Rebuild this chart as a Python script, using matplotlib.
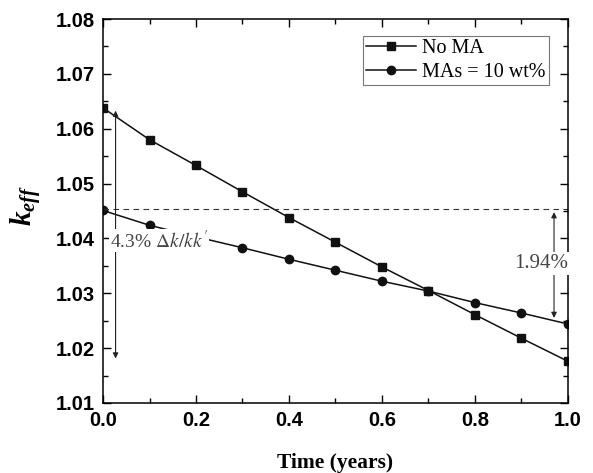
import matplotlib.pyplot as plt
import numpy as np

# data
time = [0.0, 0.1, 0.2, 0.3, 0.4, 0.5, 0.6, 0.7, 0.8, 0.9, 1.0]
k_no_ma = [1.0638, 1.0580, 1.0533, 1.0485, 1.0438, 1.0393, 1.0348, 1.0305, 1.0261, 1.0218, 1.0176]
k_ma10 = [1.0451, 1.0424, 1.0403, 1.0383, 1.0362, 1.0342, 1.0322, 1.0304, 1.0283, 1.0264, 1.0244]
ref_level = 1.0453

serif = ['Liberation Serif', 'DejaVu Serif']
sans = ['Liberation Sans', 'DejaVu Sans']

plt.rcParams['mathtext.fontset'] = 'custom'
plt.rcParams['mathtext.it'] = 'Liberation Serif:italic:bold'
plt.rcParams['mathtext.rm'] = 'Liberation Serif:bold'

fig = plt.figure(figsize=(5.93, 4.73), dpi=100)
ax = fig.add_axes([0.1737, 0.148, 0.7841, 0.8118])

ax.plot(time, k_no_ma, color='#111111', linewidth=1.1, marker='s', markersize=5.5, label='No MA')
ax.plot(time, k_ma10, color='#111111', linewidth=1.1, marker='o', markersize=6, label='MAs = 10 wt%')

# dashed reference line
ax.axhline(ref_level, color='#333333', linewidth=0.8, linestyle=(0, (5, 4)))

# left arrow: 4.3%
ax.annotate('', xy=(0.027, k_no_ma[0]), xytext=(0.027, k_no_ma[-1]),
            arrowprops=dict(arrowstyle='<|-|>', color='#222222', lw=0.8, mutation_scale=8))
ax.text(0.015, 1.0396, '4.3% $\\Delta k/kk\'$', fontsize=14, family=serif, color='#444444',
        va='center', ha='left', math_fontfamily='stix',
        bbox=dict(facecolor='white', edgecolor='none', pad=0.5))

# right arrow: 1.94%
ax.annotate('', xy=(0.97, ref_level), xytext=(0.97, k_ma10[-1] + 0.0006),
            arrowprops=dict(arrowstyle='<|-|>', color='#222222', lw=0.8, mutation_scale=8))
ax.text(0.943, 1.0354, '1.94%', fontsize=15, family=serif, color='#444444',
        va='center', ha='center', bbox=dict(facecolor='white', edgecolor='none', pad=1.5))

ax.set_xlim(0, 1.0)
ax.set_ylim(1.01, 1.08)
ax.set_xticks(np.arange(0, 1.01, 0.2))
ax.set_xticks(np.arange(0.1, 1.0, 0.2), minor=True)
ax.set_yticks(np.arange(1.01, 1.0801, 0.01))
ax.set_yticks(np.arange(1.015, 1.08, 0.01), minor=True)
ax.set_xticklabels(['0.0', '0.2', '0.4', '0.6', '0.8', '1.0'])
ax.set_yticklabels(['%.2f' % v for v in np.arange(1.01, 1.0801, 0.01)])
ax.tick_params(which='both', direction='in', top=True, right=True, width=1)
ax.tick_params(which='major', length=6, pad=6)
ax.tick_params(which='minor', length=3.5)
for lab in ax.get_xticklabels() + ax.get_yticklabels():
    lab.set_family(sans)
    lab.set_fontweight('bold')
    lab.set_fontsize(14.5)
for s in ax.spines.values():
    s.set_linewidth(1.1)

ax.set_xlabel('Time (years)', fontsize=15.5, family=serif, fontweight='bold', labelpad=16)
fig.text(0.045, 0.565, r'$k_{eff}$', rotation=90, fontsize=21, ha='center', va='center')

leg = ax.legend(loc='upper right', bbox_to_anchor=(0.959, 0.956), borderaxespad=0,
                prop={'family': serif, 'size': 14.5},
                frameon=True, fancybox=False, edgecolor='#555555', handlelength=2.5,
                handletextpad=0.3, borderpad=0.15, labelspacing=0.25)
leg.get_frame().set_linewidth(0.8)

fig.savefig('out.png', dpi=100)
